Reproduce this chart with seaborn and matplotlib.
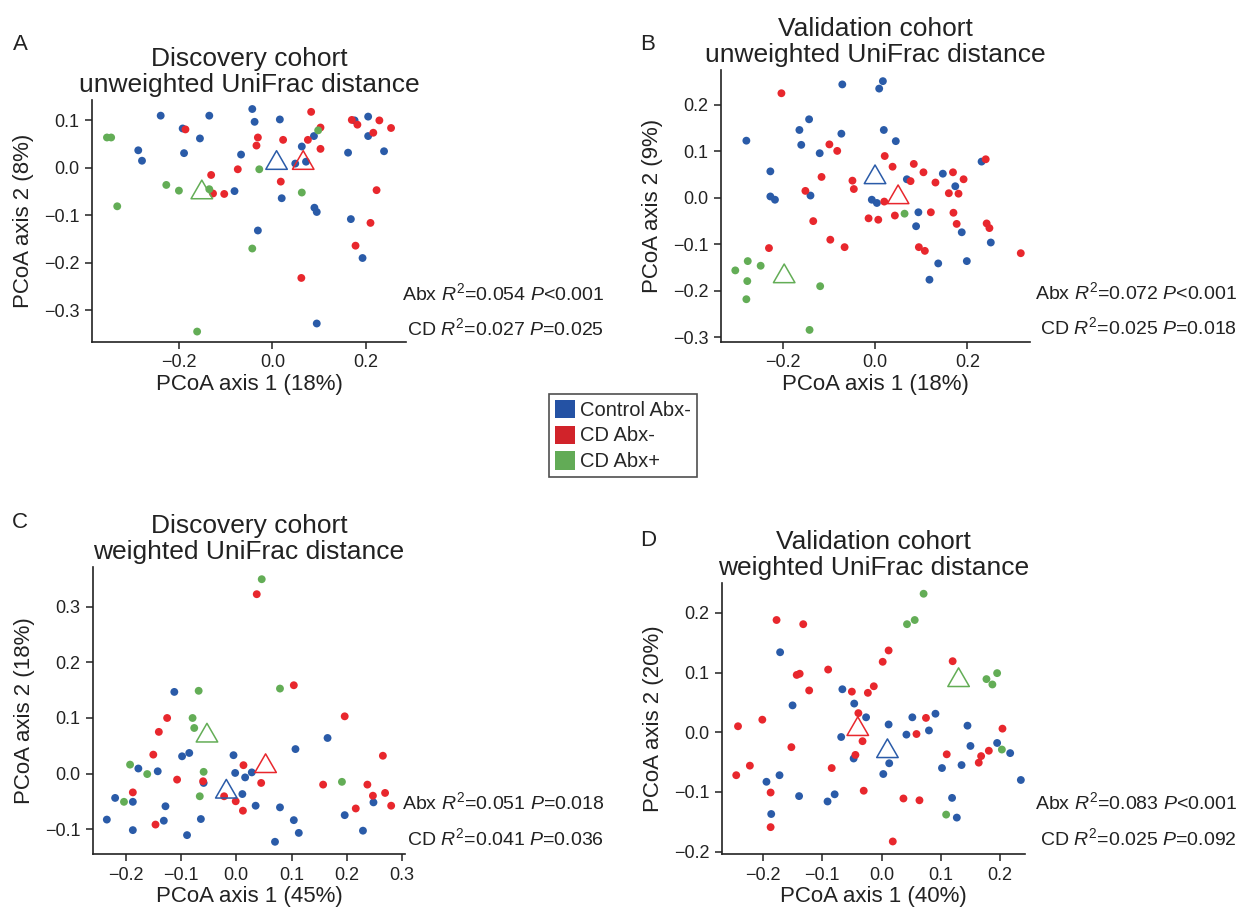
import numpy as np
import pandas as pd
import matplotlib
matplotlib.use("Agg")
import matplotlib.pyplot as plt
from matplotlib.patches import Patch
from matplotlib.ticker import FixedLocator, FuncFormatter
import seaborn as sns

GROUPS = ["Control Abx-", "CD Abx-", "CD Abx+"]
PALETTE = {"Control Abx-": "#2a5ba8", "CD Abx-": "#e8272d", "CD Abx+": "#63ad56"}
LEGEND_COLORS = ["#2452a4", "#d1232a", "#62ab56"]

# ---- A: discovery cohort, unweighted UniFrac ----
A_CTRL = [(-0.239, 0.110), (-0.135, 0.110), (-0.043, 0.124), (-0.038, 0.097), (0.016, 0.102),
          (0.205, 0.108), (-0.192, 0.083), (-0.155, 0.062), (-0.287, 0.037), (-0.279, 0.015),
          (-0.189, 0.031), (-0.067, 0.028), (-0.081, -0.049), (0.020, -0.064), (0.049, 0.009),
          (0.072, 0.013), (0.063, 0.045), (0.089, 0.067), (0.090, -0.084), (0.095, -0.093),
          (-0.031, -0.132), (0.168, -0.108), (0.193, -0.190), (0.095, -0.328), (0.162, 0.032),
          (0.239, 0.035), (0.205, 0.067), (0.176, 0.100)]
A_CDM = [(-0.186, 0.081), (0.083, 0.118), (0.103, 0.085), (-0.031, 0.064), (-0.034, 0.047),
         (0.023, 0.059), (0.076, 0.059), (0.103, 0.040), (-0.131, -0.015), (-0.074, -0.003),
         (-0.127, -0.054), (-0.103, -0.055), (0.018, -0.029), (0.170, 0.101), (0.182, 0.091),
         (0.229, 0.100), (0.216, 0.074), (0.254, 0.084), (0.223, -0.047), (0.210, -0.116),
         (0.178, -0.164), (0.062, -0.232)]
A_CDP = [(-0.354, 0.064), (-0.345, 0.064), (-0.332, -0.081), (-0.227, -0.036), (-0.200, -0.048),
         (-0.135, -0.045), (-0.028, -0.003), (0.063, -0.052), (-0.043, -0.170), (-0.161, -0.345),
         (0.098, 0.079)]
A_CENT = [(0.009, 0.010), (0.066, 0.010), (-0.151, -0.052)]
A_STATS = ["Abx $R^2$=0.054 $P$<0.001", "CD $R^2$=0.027 $P$=0.025"]

# ---- B: validation cohort, unweighted UniFrac ----
B_CTRL = [(-0.279, 0.123), (-0.227, 0.057), (-0.227, 0.003), (-0.217, -0.004), (-0.164, 0.146),
          (-0.143, 0.169), (-0.160, 0.114), (-0.120, 0.096), (-0.073, 0.138), (-0.071, 0.244),
          (0.009, 0.235), (0.017, 0.251), (0.019, 0.146), (0.045, 0.122), (-0.140, 0.005),
          (-0.007, -0.004), (0.004, -0.011), (0.069, 0.040), (0.094, -0.031), (0.089, -0.061),
          (0.147, 0.052), (0.174, 0.025), (0.188, -0.074), (0.137, -0.141), (0.118, -0.176),
          (0.199, -0.136), (0.231, 0.078), (0.251, -0.096)]
B_CDM = [(-0.203, 0.225), (-0.099, 0.115), (-0.082, 0.101), (-0.116, 0.045), (-0.049, 0.037),
         (-0.046, 0.019), (-0.151, 0.015), (-0.134, -0.050), (-0.097, -0.090), (-0.066, -0.106),
         (-0.230, -0.108), (0.021, 0.090), (0.038, 0.067), (0.084, 0.073), (0.077, 0.036),
         (0.105, 0.055), (0.131, 0.033), (0.169, 0.055), (0.192, 0.040), (0.160, 0.010),
         (0.181, 0.009), (0.170, -0.032), (0.177, -0.056), (0.121, -0.031), (0.240, 0.083),
         (0.242, -0.055), (0.248, -0.065), (-0.014, -0.044), (0.007, -0.047), (0.020, -0.008),
         (0.043, -0.038), (0.095, -0.106), (0.108, -0.114), (0.316, -0.119)]
B_CDP = [(-0.303, -0.156), (-0.276, -0.136), (-0.277, -0.179), (-0.279, -0.218), (-0.248, -0.146),
         (-0.119, -0.190), (-0.142, -0.284), (0.064, -0.034)]
B_CENT = [(0.000, 0.044), (0.050, 0.001), (-0.197, -0.169)]
B_STATS = ["Abx $R^2$=0.072 $P$<0.001", "CD $R^2$=0.025 $P$=0.018"]

# ---- C: discovery cohort, weighted UniFrac ----
C_CTRL = [(-0.234, -0.083), (-0.219, -0.044), (-0.187, -0.102), (-0.187, -0.051), (-0.177, 0.009),
          (-0.142, 0.004), (-0.128, -0.059), (-0.131, -0.085), (-0.112, 0.147), (-0.098, 0.031),
          (-0.085, 0.037), (-0.089, -0.111), (-0.064, -0.082), (-0.059, -0.017), (-0.005, 0.033),
          (-0.002, 0.001), (0.016, -0.007), (0.028, 0.002), (0.011, -0.037), (0.035, -0.058),
          (0.079, -0.061), (0.070, -0.123), (0.107, 0.044), (0.104, -0.084), (0.113, -0.107),
          (0.165, 0.064), (0.196, -0.075), (0.229, -0.103), (0.248, -0.052)]
C_CDM = [(-0.125, 0.100), (-0.140, 0.075), (-0.150, 0.034), (-0.187, -0.034), (-0.107, -0.011),
         (-0.146, -0.092), (-0.060, -0.014), (-0.022, -0.041), (-0.001, -0.050), (0.013, 0.015),
         (0.012, -0.067), (0.045, -0.017), (0.037, 0.323), (0.104, 0.159), (0.157, -0.020),
         (0.196, 0.103), (0.216, -0.063), (0.237, -0.020), (0.247, -0.040), (0.265, 0.032),
         (0.269, -0.035), (0.280, -0.058)]
C_CDP = [(0.046, 0.350), (-0.068, 0.149), (-0.079, 0.100), (-0.076, 0.082), (-0.059, 0.003),
         (-0.066, -0.041), (-0.192, 0.016), (-0.161, -0.001), (-0.203, -0.051), (0.079, 0.153),
         (0.191, -0.015)]
C_CENT = [(-0.018, -0.033), (0.053, 0.013), (-0.053, 0.068)]
C_STATS = ["Abx $R^2$=0.051 $P$=0.018", "CD $R^2$=0.041 $P$=0.036"]

# ---- D: validation cohort, weighted UniFrac ----
D_CTRL = [(-0.171, 0.134), (-0.150, 0.045), (-0.194, -0.083), (-0.172, -0.072), (-0.186, -0.137),
          (-0.139, -0.107), (-0.091, -0.116), (-0.079, -0.104), (-0.066, 0.072), (-0.046, 0.048),
          (-0.026, 0.025), (-0.068, -0.008), (-0.047, -0.044), (0.003, -0.070), (0.013, -0.052),
          (0.012, 0.013), (0.042, -0.004), (0.052, 0.025), (0.080, 0.003), (0.091, 0.031),
          (0.102, -0.060), (0.119, -0.110), (0.127, -0.143), (0.135, -0.055), (0.145, 0.011),
          (0.150, -0.023), (0.195, -0.018), (0.217, -0.035), (0.235, -0.080)]
D_CDM = [(-0.242, 0.010), (-0.245, -0.072), (-0.222, -0.056), (-0.201, 0.021), (-0.177, 0.188),
         (-0.132, 0.181), (-0.143, 0.096), (-0.138, 0.098), (-0.122, 0.070), (-0.152, -0.025),
         (-0.187, -0.101), (-0.187, -0.159), (-0.090, 0.105), (-0.084, -0.060), (-0.050, 0.068),
         (-0.023, 0.066), (-0.013, 0.077), (-0.039, 0.032), (-0.032, -0.015), (-0.044, -0.038),
         (-0.030, -0.098), (0.002, 0.118), (0.012, 0.137), (0.019, -0.183), (0.037, -0.111),
         (0.059, -0.003), (0.064, -0.114), (0.075, 0.024), (0.120, 0.119), (0.110, -0.037),
         (0.164, -0.051), (0.168, -0.040), (0.181, -0.031), (0.204, 0.006)]
D_CDP = [(0.043, 0.181), (0.056, 0.188), (0.071, 0.232), (0.177, 0.089), (0.187, 0.080),
         (0.195, 0.099), (0.109, -0.138), (0.203, -0.029)]
D_CENT = [(0.010, -0.032), (-0.040, 0.005), (0.130, 0.087)]
D_STATS = ["Abx $R^2$=0.083 $P$<0.001", "CD $R^2$=0.025 $P$=0.092"]

TITLES = ["Discovery cohort\nunweighted UniFrac distance",
          "Validation cohort\nunweighted UniFrac distance",
          "Discovery cohort\nweighted UniFrac distance",
          "Validation cohort\nweighted UniFrac distance"]
XLABELS = ["PCoA axis 1 (18%)", "PCoA axis 1 (18%)", "PCoA axis 1 (45%)", "PCoA axis 1 (40%)"]
YLABELS = ["PCoA axis 2 (8%)", "PCoA axis 2 (9%)", "PCoA axis 2 (18%)", "PCoA axis 2 (20%)"]
XTICKS = [[-0.2, 0.0, 0.2], [-0.2, 0.0, 0.2],
          [-0.2, -0.1, 0.0, 0.1, 0.2, 0.3], [-0.2, -0.1, 0.0, 0.1, 0.2]]
YTICKS = [[-0.3, -0.2, -0.1, 0.0, 0.1], [-0.3, -0.2, -0.1, 0.0, 0.1, 0.2],
          [-0.1, 0.0, 0.1, 0.2, 0.3], [-0.2, -0.1, 0.0, 0.1, 0.2]]
LETTERS = ["A", "B", "C", "D"]

sns.set_style("ticks")
plt.rcParams["font.family"] = ["Liberation Sans", "DejaVu Sans"]
plt.rcParams["mathtext.fontset"] = "custom"
plt.rcParams["mathtext.rm"] = "Liberation Sans"
plt.rcParams["mathtext.it"] = "Liberation Sans:italic"
plt.rcParams["axes.unicode_minus"] = True

W, H = 1245, 908
fig = plt.figure(figsize=(W / 100, H / 100), dpi=100)

# layout in pixels: (left, top, right, bottom), limits
RECTS = [(92, 100, 406, 342), (721, 70, 1030, 342), (93, 567, 405, 854), (722, 583, 1025, 854)]
XLIMS = [(-0.386, 0.286), (-0.334, 0.336), (-0.259, 0.305), (-0.269, 0.242)]
YLIMS = [(-0.367, 0.143), (-0.31, 0.275), (-0.145, 0.372), (-0.204, 0.25)]
STAT_POS = [(604, 293, 328), (1237, 292, 327), (604, 802, 838), (1237, 802, 838)]
LETTER_POS = [(20, 44), (648, 44), (20, 522), (648, 540)]

panels = [(A_CTRL, A_CDM, A_CDP, A_CENT, A_STATS),
          (B_CTRL, B_CDM, B_CDP, B_CENT, B_STATS),
          (C_CTRL, C_CDM, C_CDP, C_CENT, C_STATS),
          (D_CTRL, D_CDM, D_CDP, D_CENT, D_STATS)]


def tick_fmt(v, pos):
    s = f"{v:.1f}"
    if s == "-0.0":
        s = "0.0"
    return s.replace("-", "\u2212")


for i, (ctrl, cdm, cdp, cent, stats) in enumerate(panels):
    l, t, r, b = RECTS[i]
    ax = fig.add_axes([l / W, 1 - b / H, (r - l) / W, (b - t) / H])
    rows = []
    for g, pts in zip(GROUPS, [ctrl, cdm, cdp]):
        for x, y in pts:
            rows.append({"x": x, "y": y, "group": g})
    df = pd.DataFrame(rows)
    sns.scatterplot(data=df, x="x", y="y", hue="group", palette=PALETTE,
                    s=32, linewidth=0, legend=False, ax=ax, zorder=2)
    cdf = pd.DataFrame({"x": [c[0] for c in cent], "y": [c[1] for c in cent], "group": GROUPS})
    for _, row in cdf.iterrows():
        ax.scatter(row["x"], row["y"], marker=(3, 0, 0), s=320, facecolors="none",
                   edgecolors=PALETTE[row["group"]], linewidths=1.1, zorder=3)

    ax.set_xlim(*XLIMS[i])
    ax.set_ylim(*YLIMS[i])
    ax.xaxis.set_major_locator(FixedLocator(XTICKS[i]))
    ax.yaxis.set_major_locator(FixedLocator(YTICKS[i]))
    ax.xaxis.set_major_formatter(FuncFormatter(tick_fmt))
    ax.yaxis.set_major_formatter(FuncFormatter(tick_fmt))
    ax.tick_params(axis="both", labelsize=13, length=5, width=1.1, color="#222222",
                   labelcolor="#222222", pad=4)
    for sp in ["left", "bottom"]:
        ax.spines[sp].set_linewidth(1.2)
        ax.spines[sp].set_color("#222222")
    sns.despine(ax=ax)
    ax.set_xlabel(XLABELS[i], fontsize=16, labelpad=2, color="#222222")
    ax.set_ylabel(YLABELS[i], fontsize=16, labelpad=7, color="#222222")
    ax.set_title(TITLES[i], fontsize=19, pad=6, linespacing=1.1, color="#222222")

    sx, sy1, sy2 = STAT_POS[i]
    fig.text(sx / W, 1 - sy1 / H, stats[0], ha="right", va="center", fontsize=14, color="#222222")
    fig.text(sx / W, 1 - sy2 / H, stats[1], ha="right", va="center", fontsize=14, color="#222222")
    lx, ly = LETTER_POS[i]
    fig.text(lx / W, 1 - ly / H, LETTERS[i], ha="center", va="center", fontsize=16, color="#222222")

handles = [Patch(facecolor=c, edgecolor="none") for c in LEGEND_COLORS]
leg = fig.legend(handles, GROUPS, loc="center", bbox_to_anchor=(623 / W, 1 - 435.5 / H),
                 fontsize=14.5, frameon=True, fancybox=False, handlelength=1.0, handleheight=1.0,
                 handletextpad=0.25, labelspacing=0.3, borderpad=0.3)
leg.get_frame().set_edgecolor("#222222")
leg.get_frame().set_linewidth(1.2)

fig.savefig("out.png", dpi=100)
